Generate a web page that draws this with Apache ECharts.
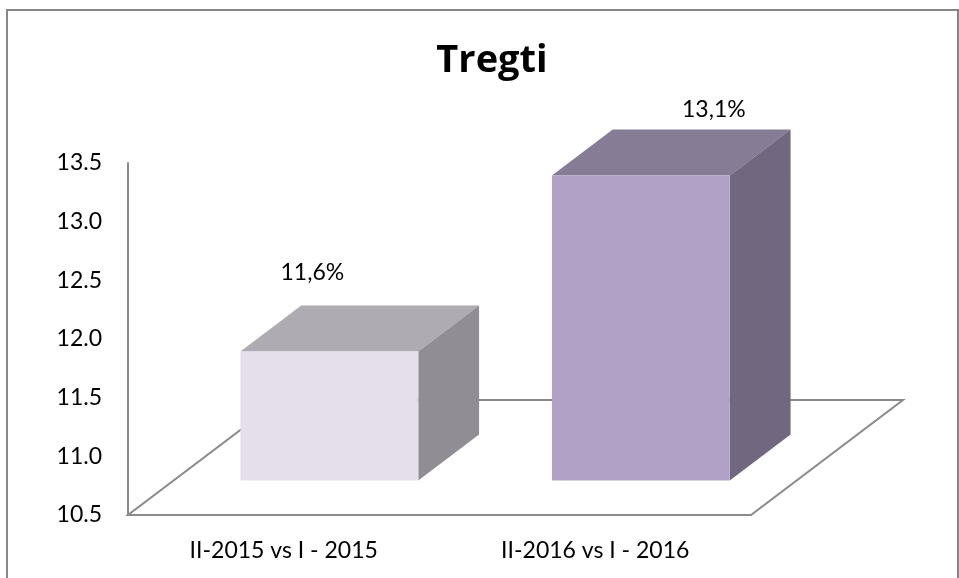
<!DOCTYPE html>
<html>
<head>
<meta charset="utf-8">
<script src="https://cdn.jsdelivr.net/npm/echarts@6/dist/echarts.min.js"></script>
<style>
	html, body { margin: 0; padding: 0; background: #fff; }
	#chart { width: 959px; height: 578px; }
</style>
</head>
<body>
<div id="chart"></div>
<script>
	// data
	var categories = ['II-2015 vs I - 2015', 'II-2016 vs I - 2016'];
	var values = [11.6, 13.1];
	var valueLabels = ['11,6%', '13,1%'];
	var yMin = 10.5, yMax = 13.5, yStep = 0.5;

	// 3d look (px)
	var DX = 152, DY = -115;          // floor depth
	var front = 0.3, back = 0.7;      // bar depth inside floor
	var barRatio = 0.571;
	var labelShift = [[-17, -79], [73, -66]];
	var faces = [
		{ front: '#E5DFEC', top: '#AEABB2', side: '#908D95' },
		{ front: '#B2A1C7', top: '#867C96', side: '#71687F' }
	];
	var font = 'Lato, "Open Sans", sans-serif';

	var chart = echarts.init(document.getElementById('chart'));

	var option = {
		backgroundColor: '#fff',
		animation: false,
		title: {
			text: 'Tregti',
			left: 487,
			textAlign: 'center',
			top: 37,
			textStyle: { fontFamily: '"Open Sans", sans-serif', fontSize: 38, fontWeight: 'bold', color: '#000' }
		},
		graphic: [{
			type: 'rect',
			shape: { x: 7, y: 10, width: 951, height: 620 },
			style: { fill: 'none', stroke: '#868686', lineWidth: 2 },
			silent: true
		}],
		grid: { left: 128, right: 208, top: 163, bottom: 63 },
		xAxis: {
			type: 'category',
			data: categories,
			axisLine: { show: true, lineStyle: { color: '#8a8a8a', width: 2 } },
			axisTick: { show: false },
			axisLabel: { margin: 24, color: '#000', fontFamily: font, fontSize: 23 },
			splitLine: { show: false }
		},
		yAxis: {
			type: 'value',
			min: yMin,
			max: yMax,
			interval: yStep,
			axisLine: { show: true, lineStyle: { color: '#8a8a8a', width: 2 } },
			axisTick: { show: false },
			splitLine: { show: false },
			axisLabel: {
				margin: 26, color: '#000', fontFamily: font, fontSize: 23,
				formatter: function(v) { return v.toFixed(1); }
			}
		},
		series: [{
			// floor
			type: 'custom',
			data: [[0, yMin]],
			silent: true,
			renderItem: function(params, api) {
				var cs = params.coordSys;
				var x0 = cs.x, x1 = cs.x + cs.width, y0 = cs.y + cs.height;
				return {
					type: 'polygon',
					shape: { points: [[x0, y0], [x1, y0], [x1 + DX, y0 + DY], [x0 + DX, y0 + DY]] },
					style: { fill: '#fff', stroke: '#8a8a8a', lineWidth: 2 }
				};
			}
		}, {
			// bars
			type: 'custom',
			data: values.map(function(v, i) { return [i, v]; }),
			encode: { x: 0, y: 1 },
			renderItem: function(params, api) {
				var i = params.dataIndex;
				var t = api.coord([api.value(0), api.value(1)]);
				var b = api.coord([api.value(0), yMin]);
				var w = api.size([1, 0])[0] * barRatio;
				var L = t[0] - w / 2, R = t[0] + w / 2, T = t[1], B = b[1];
				var fx = DX * front, fy = DY * front, bx = DX * back, by = DY * back;
				var c = faces[i];
				return {
					type: 'group',
					children: [{
						type: 'polygon',
						shape: { points: [[L + fx, T + fy], [R + fx, T + fy], [R + bx, T + by], [L + bx, T + by]] },
						style: { fill: c.top }
					}, {
						type: 'polygon',
						shape: { points: [[R + fx, T + fy], [R + bx, T + by], [R + bx, B + by], [R + fx, B + fy]] },
						style: { fill: c.side }
					}, {
						type: 'rect',
						shape: { x: L + fx, y: T + fy, width: w, height: B - T },
						style: { fill: c.front }
					}, {
						type: 'text',
						x: t[0] + fx + labelShift[i][0],
						y: T + fy + labelShift[i][1],
						style: {
							text: valueLabels[i], fill: '#000', font: '23px ' + font,
							textAlign: 'center', textVerticalAlign: 'middle'
						}
					}]
				};
			}
		}]
	};
	chart.setOption(option);

	window.onresize = function() {
		chart.resize();
	}
</script>
</body>
</html>
